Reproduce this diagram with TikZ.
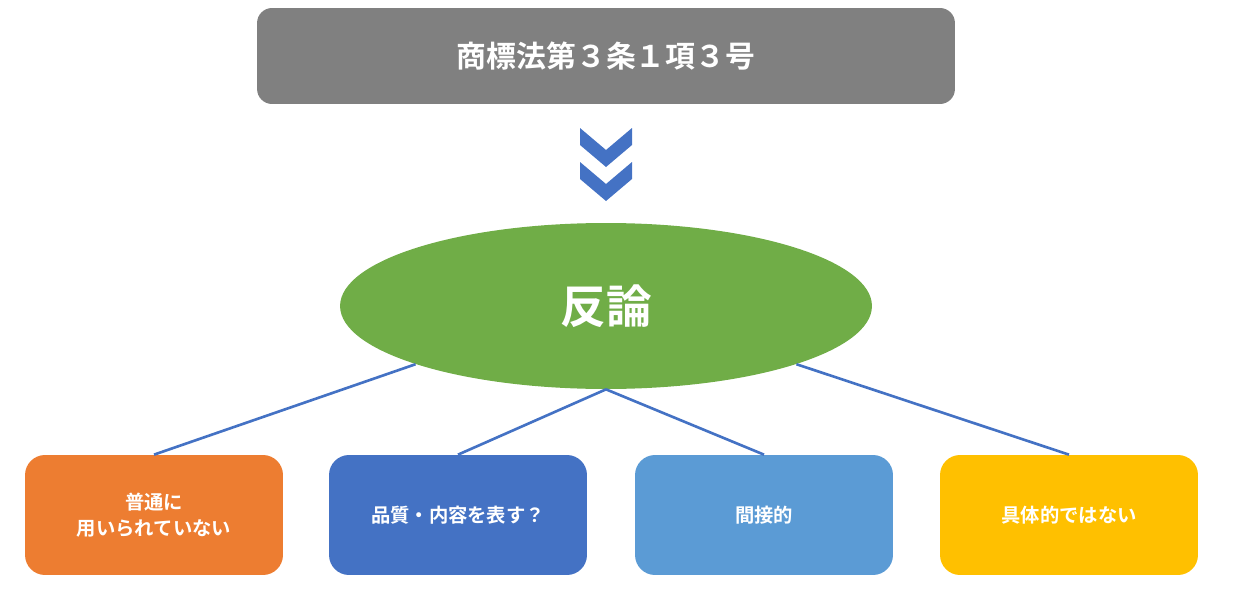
\documentclass[tikz,border=0pt]{standalone}
\usepackage{fontspec}
\setmainfont{Noto Sans CJK JP}[BoldFont={Noto Sans CJK JP Bold}]
\usetikzlibrary{shapes.geometric}
\definecolor{headgray}{RGB}{128,128,128}
\definecolor{linkblue}{RGB}{68,114,196}
\definecolor{leafgreen}{RGB}{112,173,71}
\definecolor{boxorange}{RGB}{237,125,49}
\definecolor{boxsky}{RGB}{91,155,213}
\definecolor{boxgold}{RGB}{255,192,0}
\tikzset{
  leaf/.style={rounded corners=0.4cm, minimum width=5.16cm, minimum height=2.4cm,
    text=white, font=\bfseries\fontsize{11}{15}\selectfont, align=center, inner sep=0pt},
  link/.style={linkblue, line width=1.5pt}
}
\begin{document}
\begin{tikzpicture}[x=0.02cm,y=-0.02cm]
    \useasboundingbox (0,0) rectangle (1257,588);

    % Title
    \node[fill=headgray, rounded corners=0.3cm, minimum width=13.96cm, minimum height=1.92cm,
      text=white, font=\bfseries\fontsize{17}{20}\selectfont] (title) at (606,56) {商標法第３条１項３号};

    % Chevrons
    \foreach \dy in {0,34}
        \fill[linkblue] (580,128+\dy) -- (606,150+\dy) -- (632,128+\dy) -- (632,145+\dy)
            -- (606,167+\dy) -- (580,145+\dy) -- cycle;

    % Counter argument
    \node[ellipse, fill=leafgreen, minimum width=10.64cm, minimum height=3.32cm, inner sep=0pt,
      text=white, font=\bfseries\fontsize{26}{30}\selectfont] (rebut) at (606,306) {反論};

    % Leaves
    \node[leaf, fill=boxorange] (common) at (154,515) {普通に\\用いられていない};
    \node[leaf, fill=linkblue] (quality) at (458,515) {品質・内容を表す？};
    \node[leaf, fill=boxsky] (indirect) at (764,515) {間接的};
    \node[leaf, fill=boxgold] (abstract) at (1069,515) {具体的ではない};

    \draw[link] (rebut.197) -- (common.north);
    \draw[link] (rebut.south) -- (quality.north);
    \draw[link] (rebut.south) -- (indirect.north);
    \draw[link] (rebut.343) -- (abstract.north);
\end{tikzpicture}
\end{document}
